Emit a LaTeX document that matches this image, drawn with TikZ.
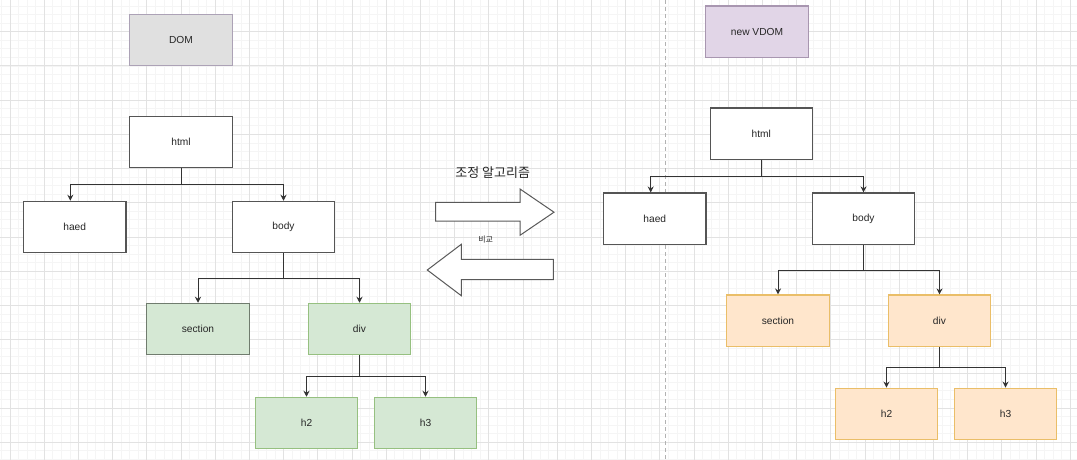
\documentclass[tikz,border=0pt]{standalone}
\usepackage{fontspec}
\setmainfont{Liberation Sans}
\newfontfamily\krfont{Noto Sans CJK KR}
\usetikzlibrary{arrows.meta}

\definecolor{gridminor}{RGB}{245,245,245}
\definecolor{gridmajor}{RGB}{226,226,226}
\definecolor{boxline}{RGB}{85,85,85}
\definecolor{domfill}{RGB}{224,224,224}
\definecolor{domline}{RGB}{172,162,182}
\definecolor{vdomfill}{RGB}{225,213,231}
\definecolor{vdomline}{RGB}{168,150,176}
\definecolor{oldfill}{RGB}{213,232,212}
\definecolor{oldline}{RGB}{150,192,128}
\definecolor{oldedge}{RGB}{112,124,110}
\definecolor{newfill}{RGB}{255,230,204}
\definecolor{newline}{RGB}{234,190,104}

\tikzset{
  box/.style={draw=boxline, line width=1.2pt, fill=white,
    minimum width=102.4pt, minimum height=51.3pt, inner sep=0pt,
    font=\fontsize{10.2}{12}\selectfont, text=black!85},
  oldbox/.style={box, fill=oldfill, draw=oldline},
  newbox/.style={box, fill=newfill, draw=newline},
  link/.style={draw=black!80, line width=1pt},
  blockarrow/.style={draw=black!65, fill=white, line width=1pt}
}

\begin{document}
\begin{tikzpicture}[x=1pt, y=-1pt, >={Stealth[length=6pt,width=6pt]}]
  \useasboundingbox (0,0) rectangle (1077,460);

  % grid
  \foreach \i in {0,...,126}
    \draw[gridminor, line width=0.7pt] (1.45+8.55*\i,0) -- ++(0,460);
  \foreach \j in {0,...,54}
    \draw[gridminor, line width=0.7pt] (0,6.05+8.55*\j) -- ++(1077,0);
  \foreach \i in {0,...,31}
    \draw[gridmajor, line width=0.8pt] (10+34.2*\i,0) -- ++(0,460);
  \foreach \j in {1,...,14}
    \draw[gridmajor, line width=0.8pt] (0,-2.5+34.2*\j) -- ++(1077,0);

  \draw[black!30, line width=0.8pt, dash pattern=on 4pt off 3pt] (665.7,0) -- (665.7,460);

  % titles
  \node[box, fill=domfill, draw=domline] (dom) at (181,40) {DOM};
  \node[box, fill=vdomfill, draw=vdomline] (vdom) at (757,31.7) {new VDOM};

  % DOM tree
  \node[box] (html) at (181,142) {html};
  \node[box] (haed) at (74.7,227) {haed};
  \node[box] (body) at (283.5,227) {body};
  \node[oldbox, draw=oldedge] (section) at (198,329) {section};
  \node[oldbox] (div) at (359.5,329) {div};
  \node[oldbox] (h2) at (306.5,423) {h2};
  \node[oldbox] (h3) at (425.5,423) {h3};

  % new VDOM tree
  \node[box] (vhtml) at (761.3,133.7) {html};
  \node[box] (vhaed) at (654.8,218.7) {haed};
  \node[box] (vbody) at (863.5,218.7) {body};
  \node[newbox] (vsection) at (778,320.7) {section};
  \node[newbox] (vdiv) at (939.5,320.7) {div};
  \node[newbox] (vh2) at (886.5,413.8) {h2};
  \node[newbox] (vh3) at (1005.5,413.8) {h3};

  \foreach \p/\a/\b/\d/\s in {html/haed/body/16.6/-4.4, body/section/div/25.3/0,
      div/h2/h3/21/0, vhtml/vhaed/vbody/17/-4.1, vbody/vsection/vdiv/25.4/0,
      vdiv/vh2/vh3/21/0} {
    \draw[link] (\p.south) -- ++(0,\d) coordinate (j\p);
    \draw[link, ->] (j\p) -| ([xshift=\s]\a.north);
    \draw[link, ->] (j\p) -| (\b.north);
  }

  % reconciliation arrows
  \node[font=\krfont\fontsize{13}{15}\selectfont, text=black!85] (algo) at (492.7,172.7) {조정 알고리즘};
  \draw[blockarrow] (435.7,202.3) -- (520,202.3) -- (520,189) -- (554,212.2)
    -- (520,235.3) -- (520,221) -- (435.7,221) -- cycle;
  \node[font=\krfont\fontsize{8}{10}\selectfont, text=black!85] (cmp) at (485.7,239.3) {비교};
  \draw[blockarrow] (553.3,259.3) -- (461.3,259.3) -- (461.3,244.3) -- (427.3,270)
    -- (461.3,295.7) -- (461.3,279.7) -- (553.3,279.7) -- cycle;
\end{tikzpicture}
\end{document}
